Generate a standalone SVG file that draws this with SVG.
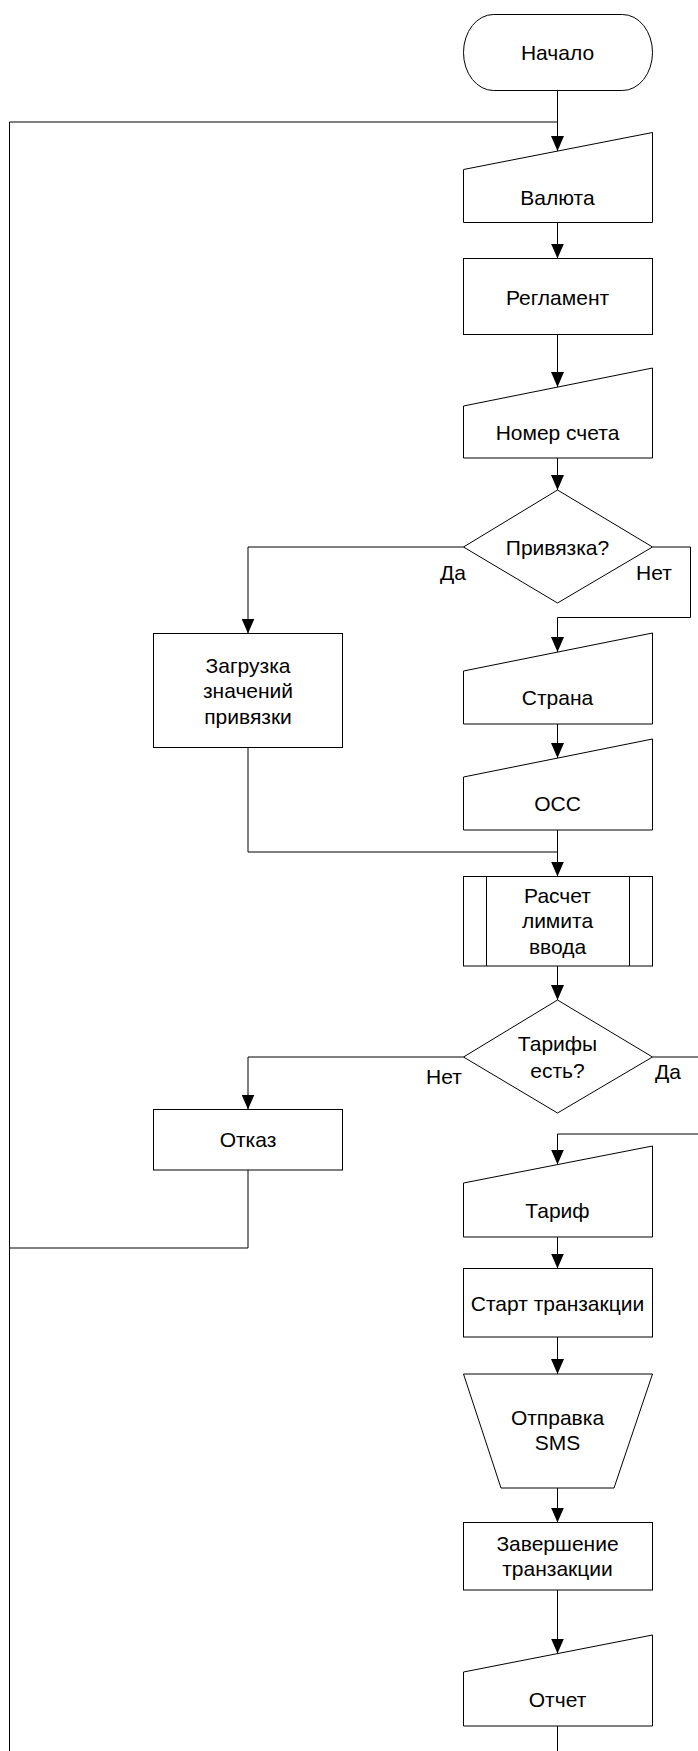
<svg xmlns="http://www.w3.org/2000/svg" width="698" height="1751" viewBox="0 0 698 1751">
<style>
.s{fill:#fff;stroke:#000;stroke-width:1}
.c{fill:none;stroke:#000;stroke-width:1}
text{font-family:"Liberation Sans",Arial,sans-serif;font-size:21px;fill:#000;text-anchor:middle}
</style>
<defs>
<marker id="ah" markerUnits="userSpaceOnUse" markerWidth="15" markerHeight="13" refX="15" refY="6.5" orient="auto">
<path d="M0,0 L15,6.5 L0,13 z" fill="#000"/>
</marker>
</defs>
<rect width="698" height="1751" fill="#fff"/>
<g id="connectors">
<path class="c" d="M557.5,90 V151" marker-end="url(#ah)"/>
<path class="c" d="M248,1170 V1248 H9.5 V122 H557.5"/>
<path class="c" d="M9.5,1248 V1751"/>
<path class="c" d="M557.5,222.5 V258.5" marker-end="url(#ah)"/>
<path class="c" d="M557.5,334.5 V387" marker-end="url(#ah)"/>
<path class="c" d="M557.5,458 V490" marker-end="url(#ah)"/>
<path class="c" d="M463.5,547 H248 V633.5" marker-end="url(#ah)"/>
<path class="c" d="M652.5,547 H690.5 V617.5 H557.5 V652" marker-end="url(#ah)"/>
<path class="c" d="M557.5,724 V758" marker-end="url(#ah)"/>
<path class="c" d="M248,747 V852 H557.5"/>
<path class="c" d="M557.5,830 V876.5" marker-end="url(#ah)"/>
<path class="c" d="M557.5,966 V1000" marker-end="url(#ah)"/>
<path class="c" d="M463.5,1057 H248 V1109.5" marker-end="url(#ah)"/>
<path class="c" d="M652.5,1057 H700 V1134 H557.5 V1164.5" marker-end="url(#ah)"/>
<path class="c" d="M557.5,1237 V1268.5" marker-end="url(#ah)"/>
<path class="c" d="M557.5,1337 V1374" marker-end="url(#ah)"/>
<path class="c" d="M557.5,1488 V1522.5" marker-end="url(#ah)"/>
<path class="c" d="M557.5,1590 V1653.5" marker-end="url(#ah)"/>
<path class="c" d="M557.5,1726 V1751"/>
<text x="453" y="580">Да</text>
<text x="654" y="580">Нет</text>
<text x="444" y="1084">Нет</text>
<text x="668" y="1079">Да</text>
</g>
<g id="start">
<rect class="s" x="463.5" y="14.5" width="189" height="76" rx="30" ry="38"/>
<text x="557.5" y="60">Начало</text>
</g>
<g id="valuta">
<polygon class="s" points="463.5,169.5 652.5,132.5 652.5,222.5 463.5,222.5"/>
<text x="557.5" y="204.5">Валюта</text>
</g>
<g id="reglament">
<rect class="s" x="463.5" y="258.5" width="189" height="76"/>
<text x="557.5" y="304.5">Регламент</text>
</g>
<g id="nomer">
<polygon class="s" points="463.5,406 652.5,368 652.5,458 463.5,458"/>
<text x="557.5" y="439.5">Номер счета</text>
</g>
<g id="privyazka">
<polygon class="s" points="557.5,490 652.5,547 557.5,603 463.5,547"/>
<text x="557.5" y="554.5">Привязка?</text>
</g>
<g id="zagruzka">
<rect class="s" x="153.5" y="633.5" width="189" height="114"/>
<text x="248" y="672.5">Загрузка</text>
<text x="248" y="698">значений</text>
<text x="248" y="723.5">привязки</text>
</g>
<g id="strana">
<polygon class="s" points="463.5,671 652.5,633 652.5,724 463.5,724"/>
<text x="557.5" y="704.5">Страна</text>
</g>
<g id="occ">
<polygon class="s" points="463.5,777 652.5,739 652.5,830 463.5,830"/>
<text x="557.5" y="810.5">ОСС</text>
</g>
<g id="raschet">
<rect class="s" x="463.5" y="876.5" width="189" height="89.5"/>
<line class="c" x1="486.5" y1="876.5" x2="486.5" y2="966"/>
<line class="c" x1="629.5" y1="876.5" x2="629.5" y2="966"/>
<text x="557.5" y="902.5">Расчет</text>
<text x="557.5" y="928">лимита</text>
<text x="557.5" y="953.5">ввода</text>
</g>
<g id="tarify">
<polygon class="s" points="557.5,1000 652.5,1057 557.5,1113 463.5,1057"/>
<text x="557.5" y="1050.5">Тарифы</text>
<text x="557.5" y="1077.5">есть?</text>
</g>
<g id="otkaz">
<rect class="s" x="153.5" y="1109.5" width="189" height="60.5"/>
<text x="248" y="1146.5">Отказ</text>
</g>
<g id="tarif">
<polygon class="s" points="463.5,1183 652.5,1146 652.5,1237 463.5,1237"/>
<text x="557.5" y="1217.5">Тариф</text>
</g>
<g id="start-tr">
<rect class="s" x="463.5" y="1268.5" width="189" height="68.5"/>
<text x="557.5" y="1310.5">Старт транзакции</text>
</g>
<g id="sms">
<polygon class="s" points="463.5,1374 652.5,1374 614,1488 501,1488"/>
<text x="557.5" y="1425">Отправка</text>
<text x="557.5" y="1450">SMS</text>
</g>
<g id="zavershenie">
<rect class="s" x="463.5" y="1522.5" width="189" height="67.5"/>
<text x="557.5" y="1550.5">Завершение</text>
<text x="557.5" y="1575.5">транзакции</text>
</g>
<g id="otchet">
<polygon class="s" points="463.5,1672 652.5,1635 652.5,1726 463.5,1726"/>
<text x="557.5" y="1706.5">Отчет</text>
</g>
</svg>
